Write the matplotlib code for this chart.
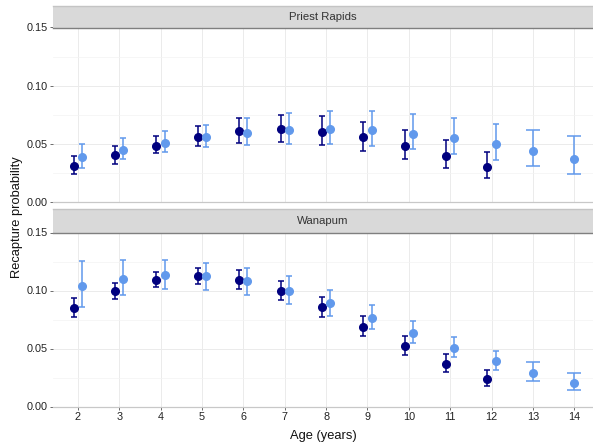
import numpy as np
import matplotlib
matplotlib.use("Agg")
import matplotlib.pyplot as plt

plt.rcParams['font.family'] = ['Liberation Sans', 'DejaVu Sans']

# ages
ages_dark = np.arange(2, 13)
ages_light = np.arange(2, 15)

# Priest Rapids
pr_dark = [0.031, 0.040, 0.048, 0.056, 0.061, 0.0628, 0.060, 0.0556, 0.0478, 0.0395, 0.0302]
pr_dark_lo = [0.024, 0.033, 0.042, 0.048, 0.051, 0.0518, 0.049, 0.0438, 0.0369, 0.0288, 0.0205]
pr_dark_hi = [0.0397, 0.048, 0.057, 0.065, 0.072, 0.0746, 0.074, 0.069, 0.0617, 0.053, 0.0432]
pr_light = [0.0389, 0.045, 0.051, 0.056, 0.0596, 0.0622, 0.063, 0.062, 0.0587, 0.0547, 0.0496, 0.0435, 0.0369]
pr_light_lo = [0.029, 0.037, 0.043, 0.047, 0.049, 0.0498, 0.0496, 0.048, 0.0452, 0.0415, 0.0363, 0.0306, 0.0242]
pr_light_hi = [0.050, 0.055, 0.061, 0.0665, 0.0723, 0.0763, 0.0786, 0.0786, 0.076, 0.0723, 0.0671, 0.0622, 0.0567]

# Wanapum
wa_dark = [0.0851, 0.0992, 0.109, 0.1124, 0.109, 0.0998, 0.0854, 0.0688, 0.0519, 0.0367, 0.0241]
wa_dark_lo = [0.0768, 0.0926, 0.1026, 0.1058, 0.1015, 0.092, 0.0771, 0.0611, 0.0442, 0.0298, 0.0181]
wa_dark_hi = [0.0938, 0.1064, 0.1158, 0.119, 0.1173, 0.1084, 0.094, 0.0777, 0.0605, 0.045, 0.0315]
wa_light = [0.1038, 0.110, 0.1135, 0.1121, 0.1078, 0.0992, 0.0892, 0.0765, 0.0636, 0.0507, 0.039, 0.029, 0.0204]
wa_light_lo = [0.086, 0.0958, 0.1009, 0.1006, 0.0958, 0.088, 0.0777, 0.0668, 0.0545, 0.0424, 0.0313, 0.0221, 0.0146]
wa_light_hi = [0.1253, 0.1264, 0.1261, 0.1241, 0.1198, 0.1121, 0.1006, 0.0874, 0.0734, 0.0602, 0.0479, 0.0381, 0.0292]

panels = [
    ("Priest Rapids", pr_dark, pr_dark_lo, pr_dark_hi, pr_light, pr_light_lo, pr_light_hi),
    ("Wanapum", wa_dark, wa_dark_lo, wa_dark_hi, wa_light, wa_light_lo, wa_light_hi),
]

dark_col = "#00007f"
light_col = "#6199ec"

W, H = 593, 447
fig = plt.figure(figsize=(W / 100, H / 100), dpi=100)

# panel pixel boxes: (top, bottom) of plotting area, strip top
boxes = [(27.5, 202, 6), (232.5, 406.5, 209)]
left_px, right_px = 53, 593

for (title, d, dlo, dhi, l, llo, lhi), (top, bot, stop) in zip(panels, boxes):
    ax = fig.add_axes([left_px / W, 1 - bot / H, (right_px - left_px) / W, (bot - top) / H])
    ax.set_xlim(1.4, 14.45)
    ax.set_ylim(0, 0.15)
    ax.set_yticks([0, 0.05, 0.10, 0.15])
    ax.set_yticks([0.025, 0.075, 0.125], minor=True)
    ax.set_xticks(np.arange(2, 15))
    ax.grid(True, which='major', color='#ebebeb', lw=0.7)
    ax.grid(True, which='minor', axis='y', color='#f3f3f3', lw=0.5)
    ax.set_axisbelow(True)
    for s in ['left', 'top', 'right']:
        ax.spines[s].set_visible(False)
    ax.spines['bottom'].set_color('#c8c8c8')
    ax.spines['bottom'].set_linewidth(0.9)
    ax.tick_params(axis='both', which='major', length=2.5, width=0.6, color='#555555',
                   labelsize=7.8, labelcolor='#222222', pad=1.5)
    ax.tick_params(axis='y', which='minor', length=0)
    ax.yaxis.set_major_formatter(matplotlib.ticker.FormatStrFormatter('%.2f'))

    d = np.array(d); dlo = np.array(dlo); dhi = np.array(dhi)
    l = np.array(l); llo = np.array(llo); lhi = np.array(lhi)

    ax.errorbar(ages_dark - 0.1, d, yerr=[d - dlo, dhi - d], fmt='o', color=dark_col,
                ecolor=dark_col, ms=5.5, elinewidth=1.1, capsize=2.4, capthick=1.1)
    n = len(ages_dark)
    ax.errorbar(ages_light[:n] + 0.1, l[:n], yerr=[l[:n] - llo[:n], lhi[:n] - l[:n]], fmt='o',
                color=light_col, ecolor=light_col, ms=5.5, elinewidth=1.1, capsize=2.4, capthick=1.1)
    ax.errorbar(ages_light[n:], l[n:], yerr=[l[n:] - llo[n:], lhi[n:] - l[n:]], fmt='o',
                color=light_col, ecolor=light_col, ms=5.5, elinewidth=1.1, capsize=4.7, capthick=1.1)

    if title == "Priest Rapids":
        ax.set_xticklabels([])
        ax.tick_params(axis='x', length=0)

    # strip
    sax = fig.add_axes([left_px / W, 1 - top / H, (right_px - left_px) / W, (top - stop) / H])
    sax.set_xlim(0, 1); sax.set_ylim(0, 1)
    sax.set_xticks([]); sax.set_yticks([])
    sax.set_facecolor('#d9d9d9')
    for s in ['left', 'right']:
        sax.spines[s].set_visible(False)
    sax.spines['top'].set_color('#c4c4c4')
    sax.spines['top'].set_linewidth(1.0)
    sax.spines['bottom'].set_color('#7f7f7f')
    sax.spines['bottom'].set_linewidth(1.0)
    sax.text(0.5, 0.47, title, ha='center', va='center', fontsize=8.2, color='#333333')

fig.text(323 / W, 1 - 436 / H, "Age (years)", ha='center', va='center', fontsize=9.3, color='#111111')
fig.text(17 / W, 1 - 217 / H, "Recapture probability", ha='center', va='center',
         rotation=90, fontsize=9.3, color='#111111')

fig.savefig("out.png", dpi=100)
